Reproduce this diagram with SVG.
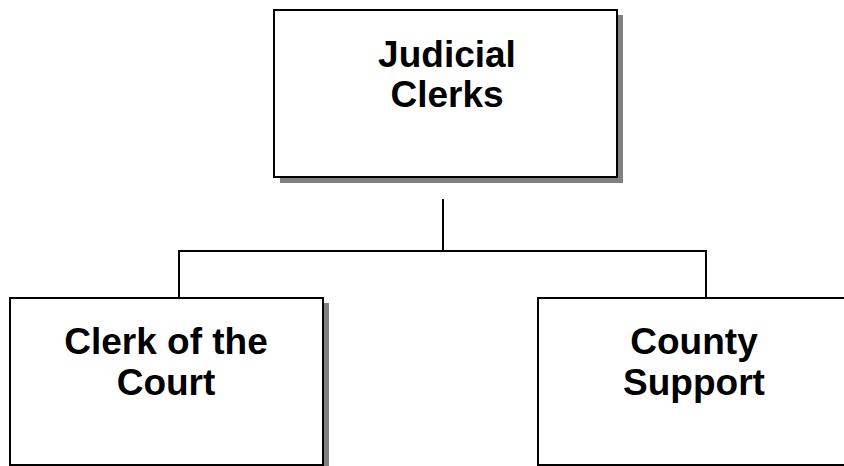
<svg xmlns="http://www.w3.org/2000/svg" width="844" height="466" viewBox="0 0 844 466">
<style>
.shadow{fill:#808080;stroke:none}
.box{fill:#fff;stroke:#000;stroke-width:2}
.label{font-family:"Liberation Sans",Arial,sans-serif;font-weight:bold;font-size:37px;fill:#000;text-anchor:middle}
.conn{fill:none;stroke:#000;stroke-width:2}
</style>
<rect width="844" height="466" fill="#fff"/>
<g id="connectors">
<path class="conn" d="M443 199 V251 M179 251 H706 M179 250 V298 M706 250 V298"/>
</g>
<g id="judicial-clerks">
<rect class="shadow" x="280" y="15" width="343" height="168"/>
<rect class="box" x="274" y="10" width="343" height="167"/>
<text class="label" x="447" y="67">Judicial</text>
<text class="label" x="447" y="107">Clerks</text>
</g>
<g id="clerk-of-the-court">
<rect class="shadow" x="16" y="303" width="313" height="170"/>
<rect class="box" x="10" y="298" width="313" height="167"/>
<text class="label" x="166" y="354">Clerk of the</text>
<text class="label" x="166" y="395">Court</text>
</g>
<g id="county-support">
<rect class="shadow" x="544" y="303" width="320" height="170"/>
<rect class="box" x="538" y="298" width="314" height="167"/>
<text class="label" x="694" y="354">County</text>
<text class="label" x="694" y="395">Support</text>
</g>
</svg>
